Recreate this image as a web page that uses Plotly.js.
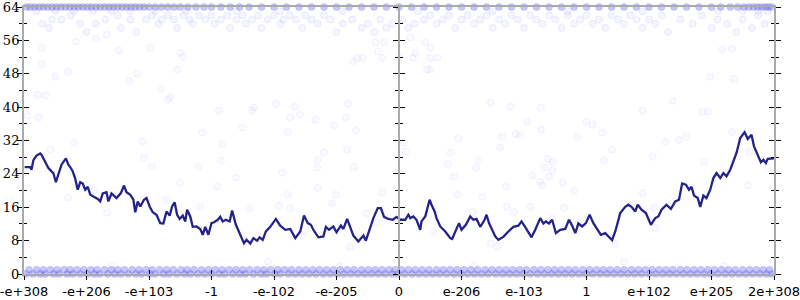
<!DOCTYPE html>
<html>
<head>
<meta charset="utf-8">
<script src="https://cdn.plot.ly/plotly-3.0.1.min.js"></script>
<style>html,body{margin:0;padding:0;background:#fff;}#chart{width:800px;height:300px;}</style>
</head>
<body>
<div id="chart"></div>
<script>
// tick positions and labels (x is an ordinal-like scale of float magnitudes)
const tickVals = [-6,-5,-4,-3,-2,-1,0,1,2,3,4,5,6];
const tickText = ["-e+308","-e+206","-e+103","-1","-e-102","-e-205","0","e-206","e-103","1","e+102","e+205","2e+308"];

// random-walk line
const lineX = [-5.99,-5.9,-5.88,-5.85,-5.8,-5.74,-5.72,-5.68,-5.61,-5.56,-5.53,-5.49,-5.45,-5.4,-5.33,-5.29,-5.25,-5.22,-5.18,-5.14,-5.1,-5.06,-5.02,-4.98,-4.94,-4.89,-4.82,-4.78,-4.74,-4.68,-4.65,-4.6,-4.52,-4.45,-4.4,-4.36,-4.3,-4.25,-4.22,-4.18,-4.14,-4.08,-4.04,-3.99,-3.94,-3.88,-3.82,-3.77,-3.72,-3.67,-3.63,-3.59,-3.55,-3.51,-3.46,-3.42,-3.39,-3.34,-3.3,-3.24,-3.18,-3.14,-3.1,-3.05,
 -3.0,-2.96,-2.9,-2.86,-2.82,-2.77,-2.71,-2.67,-2.61,-2.54,-2.48,-2.44,-2.38,-2.33,-2.27,-2.23,-2.18,-2.13,-2.06,-1.97,-1.9,-1.82,-1.74,-1.66,-1.58,-1.52,-1.46,-1.41,-1.37,-1.29,-1.21,-1.17,-1.12,-1.05,-1.0,-0.93,-0.89,-0.83,-0.78,-0.73,-0.65,-0.57,-0.53,-0.47,-0.41,-0.34,-0.29,-0.24,-0.17,-0.1,-0.04,0.02,0.1,0.15,
 0.18,0.23,0.28,0.34,0.36,0.42,0.46,0.49,0.52,0.57,0.6,0.66,0.74,0.82,0.85,0.9,0.96,1.0,1.07,1.14,1.19,1.24,1.3,1.37,1.4,1.44,1.48,1.54,1.59,1.67,1.75,1.83,1.91,1.96,2.03,2.12,2.18,2.26,2.31,2.35,2.4,2.45,2.51,2.58,2.66,2.72,2.77,2.82,2.87,2.93,2.99,
 3.05,3.11,3.16,3.23,3.3,3.35,3.41,3.46,3.5,3.54,3.62,3.67,3.72,3.78,3.82,3.88,3.95,3.99,4.03,4.1,4.15,4.2,4.28,4.35,4.42,4.48,4.53,4.59,4.64,4.68,4.72,4.78,4.82,4.87,4.92,4.98,5.03,5.08,5.14,5.19,5.24,5.3,5.35,5.4,5.46,5.53,5.58,5.64,5.68,5.75,5.79,5.83,5.87,5.9,6.0];
const lineY = [25.6,25.6,25.0,27.3,28.4,28.9,28.6,27.4,25.4,24.6,24.2,22.0,23.8,26.2,27.7,26.2,25.4,24.6,22.8,20.2,22,21.7,20.2,20.9,19,18.6,18,17.4,19.3,19.6,17.4,19.3,18.2,19.4,21.2,19.6,19,17.8,14.8,17.4,16.2,17.8,18.2,16.2,14.8,14.2,12.2,12.1,15,14,16.2,17.2,14.2,13.2,14,12.6,15.4,13.8,11.3,11.4,10.8,9.4,11.3,9.4,
 12.2,12.4,13,13.7,12.6,13,12.6,15.2,11.8,9.4,7.4,8.2,7.3,8.6,8,8.8,8.2,10.2,11.3,13.2,11.6,10.6,10.8,8.6,10.2,14,12.2,11.8,10.6,8.8,9,11.3,10.6,11.4,10,11.6,10.8,13.2,11.4,9.2,7.8,9.2,8,10.6,13.4,15.8,15.8,13.7,13.2,13,13.7,13,13,14.2,
 13.4,13.8,13,10.6,12.6,13.8,16.4,17.8,16.6,15,13.4,11.4,10.2,8.6,8.4,10.2,12.2,10.6,11.8,13.8,13,13.2,11.3,13,14.2,12.2,11,9,8.2,8.9,10.2,11.3,11.6,12.6,11,8.8,10.6,13.4,12.1,12.6,12.1,13,9.8,10.6,10.8,13,11.6,9.8,12.1,11.4,12.2,
 14.2,12.2,11,9.4,9.8,9,8.1,10.2,12.2,14.6,16.1,16.6,16.1,15,16.6,15.4,14.6,13.4,11.8,13.4,13.8,15.4,16.6,15.6,17.4,17.8,21.7,21.4,20.2,20.9,18.8,18.2,16.1,18.8,18.2,20.2,23,24.2,23,24.2,23.4,25,27,29,32.6,34,32.4,33.4,30.6,28.1,26.8,27.4,26.6,27.6,27.7];

// dense point bands (x positions of points at a given value)
const zeroX = [-5.97,-5.86,-5.74,-5.66,-5.53,-5.44,-5.31,-5.22,-5.1,-4.99,-4.88,-4.79,-4.66,-4.55,-4.45,-4.33,-4.21,-4.12,-3.99,-3.9,-3.77,-3.68,-3.55,-3.43,-3.34,-3.22,-3.11,-3.0,-2.88,-2.79,-2.66,-2.55,-2.46,-2.33,-2.21,-2.12,-1.99,-1.9,-1.77,-1.66,-1.55,-1.44,-1.33,-1.21,-1.1,-0.99,-0.88,-0.77,-0.66,-0.55,-0.44,-0.33,-0.22,-0.11,-0.02,0.09,0.21,0.32,0.43,0.54,0.65,0.76,0.88,0.99,1.1,1.21,1.32,1.43,1.55,1.66,1.77,1.88,1.99,2.1,2.22,2.33,2.44,2.55,2.66,2.77,2.88,2.99,3.1,3.22,3.33,3.44,3.55,3.66,3.77,3.88,4.0,4.11,4.22,4.33,4.44,4.55,4.66,4.77,4.88,4.99,5.1,5.22,5.33,5.44,5.55,5.66,5.77,5.88,5.97];
const oneX = [-5.92,-5.8,-5.69,-5.58,-5.47,-5.36,-5.26,-5.15,-5.04,-4.93,-4.83,-4.71,-4.6,-4.5,-4.39,-4.27,-4.16,-4.05,-3.95,-3.83,-3.72,-3.61,-3.49,-3.39,-3.28,-3.16,-3.05,-2.94,-2.83,-2.72,-2.61,-2.5,-2.39,-2.27,-2.16,-2.05,-1.94,-1.83,-1.72,-1.6,-1.49,-1.38,-1.27,-1.16,-1.05,-0.94,-0.83,-0.72,-0.6,-0.49,-0.38,-0.27,-0.16,-0.06,0.04,0.15,0.26,0.37,0.48,0.6,0.71,0.82,0.93,1.04,1.15,1.26,1.38,1.49,1.6,1.71,1.82,1.93,2.04,2.16,2.27,2.38,2.49,2.6,2.71,2.82,2.94,3.05,3.16,3.27,3.38,3.49,3.6,3.72,3.83,3.94,4.05,4.16,4.27,4.38,4.5,4.61,4.72,4.83,4.94,5.05,5.16,5.27,5.38,5.5,5.61,5.72,5.83,5.93];
const topX = [-5.96,-5.9,-5.83,-5.76,-5.69,-5.62,-5.55,-5.48,-5.41,-5.34,-5.27,-5.2,-5.13,-5.06,-4.99,-4.92,-4.85,-4.78,-4.71,-4.64,-4.57,-4.5,-4.43,-4.36,-4.29,-4.22,-4.15,-4.08,-4.0,-3.9,-3.8,-3.7,-3.6,-3.5,-3.38,-3.25,-3.12,-3.0,-2.85,-2.7,-2.55,-2.4,-2.2,-2.0,-1.8,-1.6,-1.4,-1.2,-1.0,-0.8,-0.6,-0.4,-0.2,0.0,0.2,0.4,0.6,0.8,1.0,1.2,1.4,1.6,1.8,2.0,2.2,2.4,2.6,2.8,3.0,3.2,3.4,3.6,3.8,4.0,4.2,4.4,4.6,4.8,5.0,5.15,5.3,5.42,5.52,5.6,5.67,5.74,5.8,5.86,5.91,5.96];
const top63X = [-5.8,-5.5,-5.2,-4.9,-4.6,-4.3,-3.9,-3.4,-2.6,-1.9,-0.9,0.3,1.5,2.7,3.9,5.1,5.5,5.75,5.9];

// cloud of points just below the top
const cloudX = [-5.7,-5.55,-5.6,-5.4,-5.25,-5.1,-5.0,-4.85,-4.7,-4.5,-4.45,-4.3,-4.2,
 -4.05,-3.95,-3.85,-3.8,-3.7,-3.6,-3.55,-3.45,-3.35,-3.3,-3.2,-3.1,-3.0,-2.95,-2.85,-2.75,-2.7,-2.6,-2.5,-2.45,-2.35,-2.25,-2.2,-2.1,-2.0,-1.9,-1.85,-1.75,-1.65,-1.55,-1.5,-1.4,-1.3,-1.2,-1.1,-1.0,
 -0.9,-0.75,-0.6,-0.5,-0.4,-0.3,-0.2,-0.1,0.05,0.15,0.25,
 0.4,0.5,0.6,0.7,0.8,0.9,1.0,1.1,1.2,1.3,1.4,1.5,1.6,1.7,1.8,1.9,2.0,2.1,2.2,2.3,2.4,2.5,2.6,2.7,2.8,2.9,3.0,3.1,3.2,3.3,3.4,3.5,3.6,3.7,3.8,3.9,4.0,4.1,4.2,4.3,
 4.5,4.7,4.85,5.0,5.1,5.25,5.4,5.5,5.65,5.75,5.85];
const cloudY = [60,61,59,61,62,60,58,60,61,62,59,61,58,
 61,62,60,61,62,61,59,62,61,60,62,61,62,60,61,62,59,61,62,60,61,62,59,61,62,60,61,62,61,59,62,61,60,62,61,58,
 60,61,59,60,58,61,59,60,61,59,60,
 61,62,60,61,62,59,61,62,60,61,62,59,61,60,62,61,59,62,61,60,62,61,59,62,60,61,62,60,61,59,62,61,60,62,61,59,61,60,62,58,
 61,60,62,59,61,60,58,61,59,62,60];

// sparse points across the field
const sparseX = [-5.95,-5.76,-5.2,-5.58,-4.1,-4.08,-3.95,-3.5,-3.71,-3.18,-5.3,-4.67,-4.88,-3.2,-3.7,
 -2.88,-2.35,-2.32,-1.97,-1.66,-1.58,-1.74,-1.34,-0.82,-0.85,-0.69,-1.04,-2.5,-1.78,-3.15,-2.82,-2.85,-1.2,-1.3,-1.31,-0.83,-0.72,-1.87,-2.61,-1.3,-1.78,-1.01,-2.91,-1.92,-1.74,-1.07,-2.4,-0.27,-0.51,-0.35,-0.78,-1.54,
 1.47,1.79,2.27,2.05,3.0,3.1,1.87,1.94,1.65,2.27,2.85,0.95,0.08,0.1,0.83,1.62,2.38,2.46,0.78,1.28,1.23,2.32,2.45,2.14,2.4,2.26,2.29,0.88,2.62,1.71,2.8,0.93,1.33,1.18,1.73,1.84,2.1,2.64,0.54,2.45,2.88,1.47,1.57,
 4.38,3.9,4.85,4.94,3.25,3.41,3.28,4.26,4.48,4.6,5.33,5.6,4.06,4.88,5.9,5.58,3.9,4.08,4.1,3.46,
 -5.71,-5.71,-5.3,-5.5,-5.78,-5.66,-4.48,-4.32,-4.19,-3.81,-3.66,-3.55,-3.46,-3.5,-3.98,-5.17,-4.85,-4.67,
 -0.38,-0.24,0.18,0.5,0.42,-0.34,-0.67,-0.58,-0.27,0.0,0.22,0.5,0.61,-0.74,0.26,0.45,0.5,
 5.17,5.33,4.98,5.36,-4.6,-2.1,-0.95,1.2,3.6,5.2];
const sparseY = [38,37.5,31.5,29.8,31.8,27.9,25.7,21.9,17.8,16.1,18.3,14.7,20,25.7,41.8,
 39.2,39.2,39.9,40.8,40.1,38.2,37.5,37,40.8,37.5,34.4,35.6,35.1,34.1,33.9,31.2,27.2,29.1,27.4,25.5,29.8,25.7,24.3,23.1,20.7,19,19,21,16.4,15.7,16.9,15.7,19.5,14.5,12.3,6.5,9.4,
 41.1,40.1,39.9,36.5,36.5,35.8,33.6,33.2,32.9,34.6,32.9,32.4,31.5,29.3,29.1,30.3,27.6,26.9,26.4,27.2,25.5,25.5,24.8,23.6,23.3,22.1,21.2,23.3,21.9,20.9,20,19,18.5,14.9,16.1,14.9,16.1,15.9,10.1,13.3,12.3,7.3,6.5,
 41.5,39.2,38.9,38.9,33.9,29.8,27.2,31.7,32.2,32.9,34.1,29.3,28.1,26.9,25.5,21.2,19.5,15.9,11.1,7.3,
 54.3,50.2,48.5,47.3,43,42.8,53.6,46.3,48,44.4,42.3,49,52.1,53,54.3,55.7,56.4,57.4,
 55.5,55.5,56.7,54.3,55.5,53.3,51.8,51.8,51.8,51.8,51.8,51.8,51.8,51,53,49,49,
 53.8,54,47.3,46.8,2,3,2,2,3,2];

const faintMarker = {size: 7, color: 'rgba(60,60,255,0.03)', line: {color: 'rgba(60,60,255,0.055)', width: 1}};
const cloudMarker = {size: 7, color: 'rgba(60,60,255,0.05)', line: {color: 'rgba(60,60,255,0.08)', width: 1}};
const bandMarker = {size: 7, color: 'rgba(70,70,250,0.3)', line: {color: 'rgba(70,70,250,0.3)', width: 0.5}};
function pts(x, y, m) {
  return {type: 'scatter', mode: 'markers', x: x, y: y, marker: m, hoverinfo: 'skip', showlegend: false, cliponaxis: false};
}

const traces = [
  pts(zeroX, zeroX.map(() => 0), bandMarker),
  pts(oneX, oneX.map(() => 1), bandMarker),
  pts(topX, topX.map(() => 64), bandMarker),
  pts(top63X, top63X.map(() => 63), cloudMarker),
  pts(cloudX, cloudY, cloudMarker),
  pts(sparseX, sparseY, faintMarker),
  {type: 'scatter', mode: 'lines', x: lineX, y: lineY, line: {color: '#232389', width: 2.3}, hoverinfo: 'skip', showlegend: false},
  {type: 'scatter', mode: 'markers', x: [], y: [], xaxis: 'x2', yaxis: 'y2', showlegend: false},
  {type: 'scatter', mode: 'markers', x: [], y: [], xaxis: 'x', yaxis: 'y3', showlegend: false},
  {type: 'scatter', mode: 'markers', x: [], y: [], xaxis: 'x', yaxis: 'y4', showlegend: false}
];

const yBase = {range: [0, 64], dtick: 8, tick0: 0, showgrid: false, zeroline: false, automargin: false, fixedrange: true,
  tickcolor: '#000', tickwidth: 1, ticklen: 5};
const yMinorOut = {dtick: 4, ticks: 'outside', ticklen: 3, tickcolor: '#000', tickwidth: 1};
const yMinorIn = {dtick: 4, ticks: 'inside', ticklen: 3, tickcolor: '#000', tickwidth: 1};

const layout = {
  width: 800, height: 300,
  margin: {l: 24, r: 26, t: 7, b: 26, pad: 0},
  paper_bgcolor: '#fff', plot_bgcolor: '#fff',
  showlegend: false,
  xaxis: {range: [-6, 6], tickmode: 'array', tickvals: tickVals, ticktext: tickText,
    ticks: 'outside', ticklen: 4, tickcolor: '#000', tickwidth: 1,
    showline: true, linecolor: '#aaa', linewidth: 2, mirror: true,
    showgrid: false, zeroline: false, automargin: false, fixedrange: true, ticklabeloverflow: 'allow',
    tickfont: {family: 'DejaVu Sans', size: 13, color: '#000'}},
  xaxis2: {range: [-6, 6], overlaying: 'x', anchor: 'y', tickmode: 'array', tickvals: tickVals,
    ticks: 'inside', ticklen: 4, tickcolor: '#000', tickwidth: 1, showticklabels: false,
    showline: false, showgrid: false, zeroline: false, automargin: false, fixedrange: true},
  yaxis: Object.assign({}, yBase, {ticks: 'outside', minor: yMinorOut, showline: true, linecolor: '#aaa', linewidth: 2,
    mirror: 'ticks', ticklabeloverflow: 'allow', ticklabelstandoff: -5,
    tickfont: {family: 'DejaVu Serif', size: 13, color: '#000'}}),
  yaxis2: Object.assign({}, yBase, {overlaying: 'y', anchor: 'x2', ticks: 'inside', minor: yMinorIn, showline: false,
    mirror: 'ticks', showticklabels: false}),
  yaxis3: Object.assign({}, yBase, {overlaying: 'y', anchor: 'free', position: 0.5, side: 'left', ticks: 'outside', minor: yMinorOut,
    showline: true, linecolor: '#aaa', linewidth: 2, showticklabels: false}),
  yaxis4: Object.assign({}, yBase, {overlaying: 'y', anchor: 'free', position: 0.5, side: 'left', ticks: 'inside', minor: yMinorIn,
    showline: false, showticklabels: false})
};

Plotly.newPlot('chart', traces, layout, {displayModeBar: false, staticPlot: true});
</script>
</body>
</html>
